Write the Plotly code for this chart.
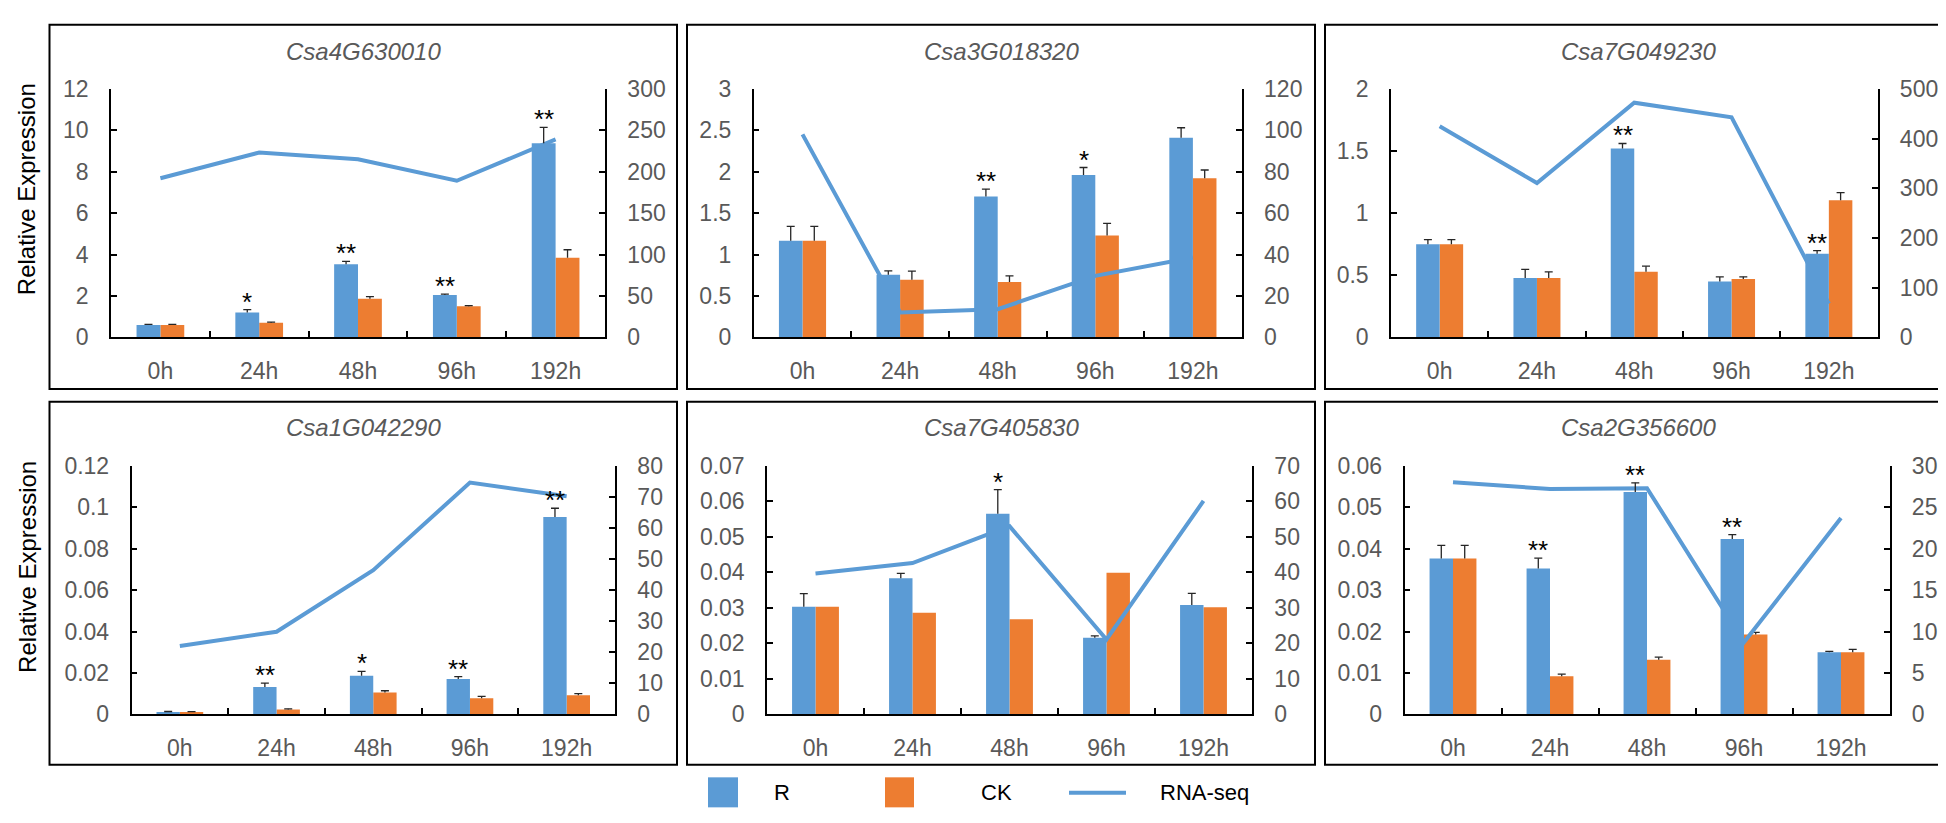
import plotly.graph_objects as go

# ---------------- data ----------------
cats = ["0h", "24h", "48h", "96h", "192h"]
genes = ["Csa4G630010", "Csa3G018320", "Csa7G049230",
         "Csa1G042290", "Csa7G405830", "Csa2G356600"]

r1 = [0.60, 1.20, 3.53, 2.04, 9.37]
r1_err = [0.03, 0.14, 0.14, 0.05, 0.77]
ck1 = [0.60, 0.71, 1.87, 1.50, 3.84]
ck1_err = [0.03, 0.03, 0.10, 0.03, 0.39]
rna1 = [192, 223, 215, 189, 239]
sig1 = ["", "*", "**", "**", "**"]

r2 = [1.165, 0.755, 1.70, 1.96, 2.41]
r2_err = [0.175, 0.047, 0.09, 0.09, 0.12]
ck2 = [1.165, 0.695, 0.668, 1.23, 1.92]
ck2_err = [0.175, 0.105, 0.074, 0.145, 0.10]
rna2 = [98, 12, 13.6, 29.7, 38.6]
sig2 = ["", "", "**", "*", ""]

r3 = [0.75, 0.477, 1.52, 0.45, 0.672]
r3_err = [0.036, 0.07, 0.04, 0.036, 0.026]
ck3 = [0.75, 0.477, 0.529, 0.469, 1.104]
ck3_err = [0.036, 0.05, 0.044, 0.018, 0.06]
rna3 = [424.5, 310.5, 472, 442.7, 68]
sig3 = ["", "", "**", "", "**"]

r4 = [0.0011, 0.0132, 0.0187, 0.0171, 0.0953]
r4_err = [0.0003, 0.0019, 0.0021, 0.0011, 0.0042]
ck4 = [0.0011, 0.0023, 0.0106, 0.0078, 0.0092]
ck4_err = [0.0002, 0.0004, 0.0008, 0.0009, 0.0008]
rna4 = [22, 26.6, 46.4, 74.6, 70.2]
sig4 = ["", "**", "*", "**", "**"]

r5 = [0.0303, 0.0383, 0.0565, 0.0216, 0.0308]
r5_err = [0.0037, 0.0014, 0.0068, 0.0005, 0.0033]
ck5 = [0.0303, 0.0286, 0.0268, 0.0399, 0.0302]
ck5_err = [None, None, None, None, None]
rna5 = [39.7, 42.6, 53.0, 21.1, 60.1]
sig5 = ["", "", "*", "", ""]

r6 = [0.0376, 0.0352, 0.0537, 0.0423, 0.0150]
r6_err = [0.0032, 0.0025, 0.0022, 0.0011, 0.0002]
ck6 = [0.0376, 0.0092, 0.0132, 0.0193, 0.0150]
ck6_err = [0.0032, 0.0005, 0.0006, 0.0005, 0.0007]
rna6 = [28.0, 27.2, 27.3, 8.7, 23.7]
sig6 = ["", "**", "**", "**", ""]

left_max = [12, 3, 2, 0.12, 0.07, 0.06]
left_dtick = [2, 0.5, 0.5, 0.02, 0.01, 0.01]
right_max = [300, 120, 500, 80, 70, 30]
right_dtick = [50, 20, 100, 10, 10, 5]

series_names = ["R", "CK", "RNA-seq"]

# ---------------- style / layout ----------------
W, H = 1946, 823
BLUE = "#5B9BD5"
ORANGE = "#ED7D31"
GRAY = "#595959"
ERRC = "#262626"
FONT = "Liberation Sans, Arial, sans-serif"
BARGAP = 0.517


def fx(px):
    return px / W


def fy(py):
    return 1 - py / H


def yname(i):
    return "y" if i == 1 else f"y{i}"


def ykey(i):
    return "yaxis" if i == 1 else f"yaxis{i}"


# plot areas in pixels: (left, top, right, bottom)
plot_px = [(103, 70, 597, 326.7), (745.7, 70, 1233.7, 326.7), (1383, 70, 1869.5, 326.7),
           (123.5, 459.3, 607, 716), (759, 459.3, 1244, 716), (1396.5, 459.3, 1881.5, 716)]
box_x = [(41.5, 669), (679, 1307), (1317, 1943)]
box_y = [(4, 380), (393.3, 768)]
title_y = [32, 420]
ytitle_y = [174, 564]

panels = [
    (r1, r1_err, ck1, ck1_err, rna1, sig1),
    (r2, r2_err, ck2, ck2_err, rna2, sig2),
    (r3, r3_err, ck3, ck3_err, rna3, sig3),
    (r4, r4_err, ck4, ck4_err, rna4, sig4),
    (r5, r5_err, ck5, ck5_err, rna5, sig5),
    (r6, r6_err, ck6, ck6_err, rna6, sig6),
]

fig = go.Figure()
layout = dict(
    width=W, height=H,
    margin=dict(l=0, r=0, t=0, b=0, pad=0),
    paper_bgcolor="white", plot_bgcolor="white",
    barmode="group", bargap=BARGAP, bargroupgap=0,
    showlegend=False,
    font=dict(family=FONT, size=23, color=GRAY),
)
annotations = []
shapes = []

axis_common = dict(showline=True, linecolor="black", linewidth=1.5,
                   tickcolor="black", tickwidth=1.5, showgrid=False,
                   zeroline=False, fixedrange=True)


def add_bars(vals, errs, color, grp, xa, ya):
    fig.add_trace(go.Bar(
        x=cats, y=vals, name=grp, offsetgroup=grp,
        marker=dict(color=color, line=dict(width=0)),
        error_y=dict(type="data", symmetric=False, array=errs,
                     arrayminus=[0] * len(vals), width=0,
                     thickness=1.3, color=ERRC),
        xaxis=xa, yaxis=ya))
    # error-bar caps (top only)
    fig.add_trace(go.Bar(
        x=cats, y=errs, base=vals, offsetgroup=grp,
        marker=dict(color="rgba(0,0,0,0)", line=dict(width=0)),
        error_y=dict(type="data", array=[0] * len(vals), width=4,
                     thickness=1.3, color=ERRC),
        xaxis=xa, yaxis=ya, hoverinfo="skip", showlegend=False))


for k, (r, r_err, ck, ck_err, rna, sig) in enumerate(panels, start=1):
    xa = "x" if k == 1 else f"x{k}"
    i_ck, i_line, i_r = 3 * k - 2, 3 * k - 1, 3 * k
    x0, y0, x1, y1 = plot_px[k - 1]

    layout["xaxis" if k == 1 else f"xaxis{k}"] = dict(
        domain=[fx(x0), fx(x1)], anchor=yname(i_ck), type="category",
        categoryorder="array", categoryarray=cats,
        ticks="inside", tickson="boundaries", ticklen=7,
        ticklabelstandoff=12, **axis_common)
    # left axis (CK bars) - base
    layout[ykey(i_ck)] = dict(
        domain=[fy(y1), fy(y0)], anchor=xa, side="left",
        range=[0, left_max[k - 1]], dtick=left_dtick[k - 1], tick0=0,
        ticks="inside", ticklen=6, ticklabelstandoff=16, **axis_common)
    # right axis (RNA-seq line)
    layout[ykey(i_line)] = dict(
        overlaying=yname(i_ck), anchor=xa, side="right",
        range=[0, right_max[k - 1]], dtick=right_dtick[k - 1], tick0=0,
        ticks="inside", ticklen=6, ticklabelstandoff=16, **axis_common)
    # hidden duplicate of left axis for R bars (drawn on top of the line)
    layout[ykey(i_r)] = dict(
        overlaying=yname(i_ck), anchor=xa, side="left", visible=False,
        range=[0, left_max[k - 1]], fixedrange=True, showgrid=False, zeroline=False)

    # trace order sets the bar slot order (R left, CK right);
    # the axis layering sets drawing order (CK, then line, then R)
    add_bars(r, r_err, BLUE, "R", xa, yname(i_r))
    add_bars(ck, ck_err, ORANGE, "CK", xa, yname(i_ck))
    fig.add_trace(go.Scatter(x=cats, y=rna, mode="lines", name=series_names[2],
                             line=dict(color=BLUE, width=4),
                             xaxis=xa, yaxis=yname(i_line), hoverinfo="skip"))

    # significance stars above R bars
    off = (1 - BARGAP) / 4
    for i, s in enumerate(sig):
        if s:
            annotations.append(dict(
                x=i - off, y=r[i] + r_err[i], xref=xa, yref=yname(i_ck),
                text=s, showarrow=False, yanchor="bottom", yshift=-9,
                font=dict(family=FONT, size=26, color="black")))

    row = (k - 1) // 3
    col = (k - 1) % 3
    bx0, bx1 = box_x[col]
    by0, by1 = box_y[row]
    shapes.append(dict(type="rect", xref="paper", yref="paper",
                       x0=fx(bx0), x1=fx(bx1), y0=fy(by1), y1=fy(by0),
                       line=dict(color="black", width=2), layer="below"))
    annotations.append(dict(
        x=fx((bx0 + bx1) / 2), y=fy(title_y[row]), xref="paper", yref="paper",
        text=f"<i>{genes[k - 1]}</i>", showarrow=False,
        xanchor="center", yanchor="middle",
        font=dict(family=FONT, size=24, color=GRAY)))
    if col == 0:
        annotations.append(dict(
            x=fx(18.7), y=fy(ytitle_y[row]), xref="paper", yref="paper",
            text="Relative Expression", textangle=-90, showarrow=False,
            xanchor="center", yanchor="middle",
            font=dict(family=FONT, size=24, color="black")))

# ---------------- legend (drawn) ----------------
leg_y = 797
shapes.append(dict(type="rect", xref="paper", yref="paper",
                   x0=fx(700), x1=fx(730), y0=fy(812), y1=fy(781),
                   fillcolor=BLUE, line=dict(width=0)))
shapes.append(dict(type="rect", xref="paper", yref="paper",
                   x0=fx(877), x1=fx(906), y0=fy(812), y1=fy(781),
                   fillcolor=ORANGE, line=dict(width=0)))
shapes.append(dict(type="line", xref="paper", yref="paper",
                   x0=fx(1061), x1=fx(1118), y0=fy(leg_y), y1=fy(leg_y),
                   line=dict(color=BLUE, width=4)))
for xpx, txt in ((764, series_names[0]), (971, series_names[1]), (1150, series_names[2])):
    annotations.append(dict(x=fx(xpx), y=fy(leg_y), xref="paper", yref="paper",
                            text=txt, showarrow=False, xanchor="left", yanchor="middle",
                            font=dict(family=FONT, size=22, color="black")))

layout["annotations"] = annotations
layout["shapes"] = shapes
fig.update_layout(**layout)

fig.write_html("out.html")
